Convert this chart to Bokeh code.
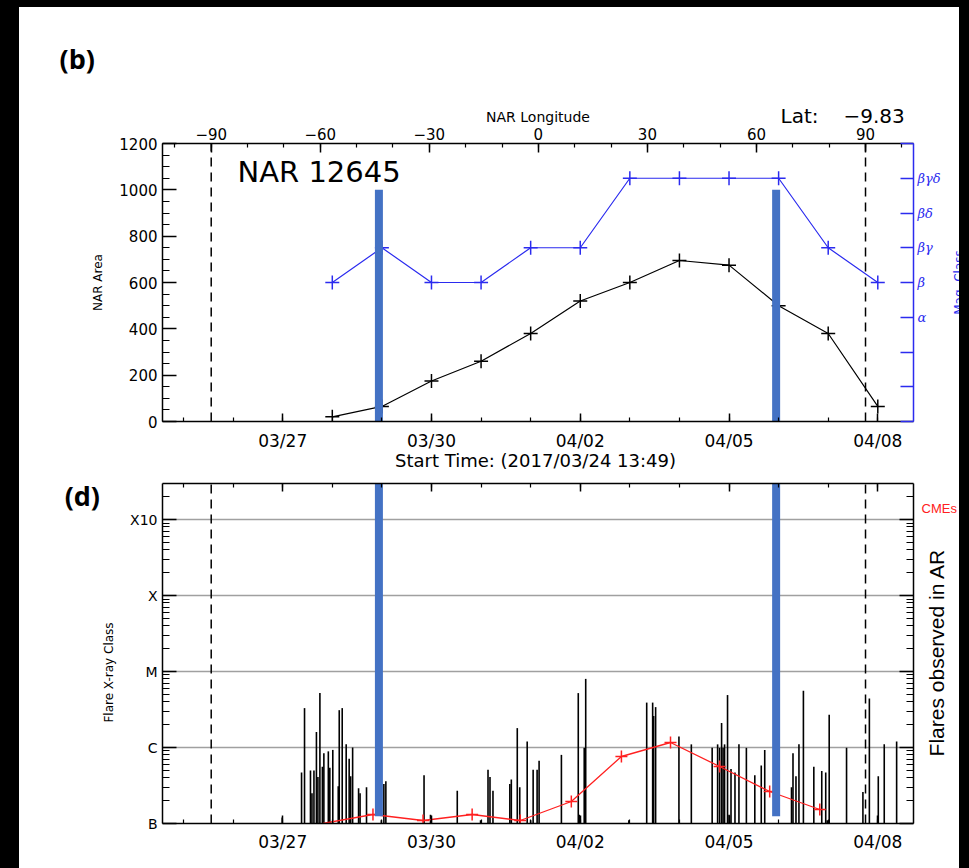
import math
from bokeh.plotting import figure
from bokeh.models import (Range1d, LinearAxis, LogAxis, FixedTicker, Label, LinearScale,
                          LogScale, Grid)
from bokeh.layouts import column
from bokeh.embed import file_html
from bokeh.resources import INLINE

# ---------------- data (x in days since 2017-03-24 00:00 UT) ----------------
area_day = [4, 5, 6, 7, 8, 9, 10, 11, 12, 13, 14, 15]
nar_area = [20, 65, 175, 260, 380, 520, 600, 695, 675, 500, 380, 65]
mag_class = ["β", "βγ", "β", "β", "βγ", "βγ", "βγδ", "βγδ", "βγδ", "βγδ", "βγ", "β"]
mag_levels = ["", "", "", "α", "β", "βγ", "βδ", "βγδ", ""]

flare_day = [2.99, 3.38, 3.44, 3.56, 3.59, 3.63, 3.68, 3.71, 3.75, 3.80,
             3.83, 3.92, 3.95, 4.01, 4.12, 4.14, 4.20, 4.28, 4.34, 4.37,
             4.41, 4.53, 4.56, 4.69, 4.99, 5.04, 5.08, 5.85, 5.98, 6.52,
             6.99, 7.14, 7.18, 7.24, 7.58, 7.61, 7.73, 7.78, 7.93, 8.00,
             8.05, 8.13, 8.17, 8.62, 8.96, 8.98, 9.08, 9.11, 9.98, 10.34,
             10.46, 10.48, 10.52, 10.99, 11.24, 11.66, 11.77, 11.81, 11.85, 11.88,
             11.91, 11.97, 12.00, 12.04, 12.12, 12.20, 12.35, 12.52, 12.65, 12.72,
             13.26, 13.29, 13.35, 13.41, 13.50, 13.71, 13.87, 13.95, 13.98, 14.02,
             14.37, 14.70, 14.83, 15.01, 15.13, 15.38]
flare_flux = [1.2e-7, 4.7e-7, 3.3e-6, 5.0e-7, 2.5e-7, 5.0e-7, 1.6e-6, 4.1e-7, 5.2e-6, 5.6e-7,
              8.4e-7, 8.9e-7, 5.4e-7, 9.3e-7, 3.1e-7, 3.1e-6, 3.3e-6, 1.1e-6, 7.1e-7, 4.2e-7,
              1.0e-6, 2.9e-7, 2.5e-7, 3.0e-7, 1.1e-7, 3.3e-7, 3.6e-7, 4.3e-7, 1.3e-7, 2.7e-7,
              1.1e-7, 5.1e-7, 4.1e-7, 2.7e-7, 3.3e-7, 3.8e-7, 1.8e-6, 3.0e-7, 1.2e-6, 1.1e-7,
              5.1e-7, 5.1e-7, 6.7e-7, 8.0e-7, 5.2e-6, 1.3e-7, 9.9e-7, 8.0e-6, 1.1e-7, 3.9e-6,
              3.9e-6, 2.6e-6, 3.4e-6, 1.4e-6, 1.1e-6, 9.9e-7, 1.1e-6, 9.9e-7, 2.1e-6, 9.9e-7,
              1.1e-6, 4.9e-6, 1.3e-7, 5.2e-7, 4.7e-7, 1.1e-6, 9.9e-7, 4.3e-7, 5.8e-7, 9.3e-7,
              3.0e-7, 8.4e-7, 4.2e-7, 1.1e-6, 5.6e-6, 5.6e-7, 4.9e-7, 4.7e-7, 1.1e-7, 2.7e-6,
              9.9e-7, 2.6e-7, 4.4e-6, 4.2e-7, 1.1e-6, 1.2e-6]

cme_day = [3.81, 4.82, 5.83, 6.82, 7.79, 8.82, 9.83, 10.82, 11.81, 12.82, 13.83]
cme_value = [0, 0.9, 0.3, 0.9, 0.3, 2.2, 6.7, 8.1, 5.7, 3.2, 1.4]

event_day = [4.94, 12.95]
limb_lon = [-90, 90]

date_ticks = [3, 6, 9, 12, 15]
date_labels = ["03/27", "03/30", "04/02", "04/05", "04/08"]
lon_ticks = [-90, -60, -30, 0, 30, 60, 90]
lon_labels = ["−90", "−60", "−30", "0", "30", "60", "90"]
area_ticks = [0, 200, 400, 600, 800, 1000, 1200]
class_ticks = [1e-7, 1e-6, 1e-5, 1e-4, 1e-3]
class_labels = ["B", "C", "M", "X", "X10"]

# ---------------- layout constants ----------------
X0, X1 = 0.576, 15.72
LON0, LON1 = -103.4, 103.2
YTOP_LOG = 2.98e-3
BLUE = "#2b2bef"
BAR = "#4472C4"
RED = "#ff2020"
FONT = "DejaVu Sans"


def tx(px):
    return X0 + (px - 162) * (X1 - X0) / 751


def ty(py):
    return (423 - py) * 1200 / 280


def bx(px):
    return X0 + (px - 162) * (X1 - X0) / 752


def by(py):
    return 1e-7 * 10 ** ((823 - py) / 76)


def style(ax, major, minor, size="16px", color="black", standoff=5):
    ax.major_tick_in = major
    ax.major_tick_out = 0
    ax.minor_tick_in = minor
    ax.minor_tick_out = 0
    ax.axis_line_color = color
    ax.major_tick_line_color = color
    ax.minor_tick_line_color = color
    ax.axis_line_width = 1.5
    ax.major_tick_line_width = 1.5
    ax.minor_tick_line_width = 1.2
    ax.major_label_text_font = FONT
    ax.major_label_text_font_size = size
    ax.major_label_text_color = color
    ax.major_label_standoff = standoff


def hide_labels(ax):
    ax.major_label_text_color = None
    ax.major_label_text_font_size = "1px"
    ax.major_label_standoff = 0


def label(p, side, **kw):
    kw.setdefault("text_color", "black")
    kw.setdefault("text_font", FONT)
    p.add_layout(Label(**kw), side)


day_minor = list(range(0, 17))

# ================= top panel =================
top = figure(width=940, height=467, output_backend="svg", toolbar_location=None,
             x_range=Range1d(X0, X1), y_range=Range1d(0, 1200),
             x_axis_type=None, y_axis_type=None,
             min_border_left=143, min_border_right=46, min_border_top=136, min_border_bottom=51)
top.extra_x_ranges = {"lon": Range1d(LON0, LON1)}
top.extra_y_ranges = {"mag": Range1d(0, 8)}
top.outline_line_color = None

ax = LinearAxis(ticker=FixedTicker(ticks=area_ticks, minor_ticks=list(range(0, 1201, 50))))
style(ax, 14, 7, "15px", standoff=5)
top.add_layout(ax, "left")

ax = LinearAxis(ticker=FixedTicker(ticks=date_ticks, minor_ticks=day_minor),
                major_label_overrides=dict(zip(date_ticks, date_labels)))
style(ax, 8, 4, "17px", standoff=9)
top.add_layout(ax, "below")

ax = LinearAxis(x_range_name="lon", ticker=FixedTicker(ticks=lon_ticks, minor_ticks=list(range(-100, 101, 10))),
                major_label_overrides=dict(zip(lon_ticks, lon_labels)),
                axis_label="NAR Longitude", axis_label_standoff=0,
                axis_label_text_font=FONT, axis_label_text_font_size="14px",
                axis_label_text_font_style="normal", axis_label_text_color="black")
style(ax, 9, 4, "15px", standoff=4)
top.add_layout(ax, "above")

mag_ticks = list(range(len(mag_levels)))
ax = LinearAxis(y_range_name="mag", ticker=FixedTicker(ticks=mag_ticks),
                major_label_overrides=dict(zip(mag_ticks, mag_levels)))
style(ax, 13, 0, "13px", color=BLUE, standoff=4)
ax.major_label_text_font = "DejaVu Serif"
ax.major_label_text_font_style = "italic"
top.add_layout(ax, "right")

top.segment(x0=limb_lon, y0=0, x1=limb_lon, y1=1200, x_range_name="lon",
            line_color="black", line_width=1.5, line_dash="9 6")

mag_index = [mag_levels.index(c) for c in mag_class]
top.line(area_day, mag_index, y_range_name="mag", line_color=BLUE, line_width=1.2)
top.scatter(area_day, mag_index, y_range_name="mag", marker="cross", size=14,
            line_color=BLUE, line_width=1.5)
top.line(area_day, nar_area, line_color="black", line_width=1.2)
top.scatter(area_day, nar_area, marker="cross", size=14, line_color="black", line_width=1.5)

top.segment(x0=event_day, y0=0, x1=event_day, y1=1000, line_color=BAR, line_width=8)

top.add_layout(Label(x=tx(237), y=ty(172), text="NAR 12645", text_font=FONT, text_font_size="29px",
                     text_color="black", text_align="left", text_baseline="alphabetic"))
label(top, "above", x=tx(59), y=ty(57), text="(b)", text_font="Open Sans", text_font_size="27px",
      text_font_style="bold", text_align="left", text_baseline="middle")
label(top, "above", x=tx(780), y=ty(115), text="Lat:", text_font_size="20px",
      text_align="left", text_baseline="alphabetic")
label(top, "above", x=tx(843), y=ty(115), text="−9.83", text_font_size="20px",
      text_align="left", text_baseline="alphabetic")
label(top, "below", x=tx(535), y=ty(462), text="Start Time: (2017/03/24 13:49)",
      text_font_size="18px", text_align="center", text_baseline="middle")
label(top, "left", x=tx(97), y=ty(283), text="NAR Area", text_font_size="12px",
      text_align="center", text_baseline="middle", angle=math.pi / 2)
label(top, "left", x=tx(958), y=ty(283), text="Mag. Class", text_font_size="12px",
      text_color=BLUE, text_align="center", text_baseline="middle", angle=math.pi / 2)

# ================= bottom panel =================
bot = figure(width=940, height=394, output_backend="svg", toolbar_location=None,
             x_range=Range1d(X0, X1), y_range=Range1d(1e-7, YTOP_LOG),
             x_axis_type=None, y_axis_type=None,
             min_border_left=143, min_border_right=45, min_border_top=9, min_border_bottom=45)
bot.y_scale = LogScale()
bot.extra_x_ranges = {"lon": Range1d(LON0, LON1)}
bot.extra_y_ranges = {"cme": Range1d(0, 34)}
bot.extra_y_scales = {"cme": LinearScale()}
bot.outline_line_color = None

log_minor = [k * 10.0 ** d for d in range(-7, -2) for k in range(2, 10) if k * 10.0 ** d <= YTOP_LOG]

ax = LogAxis(ticker=FixedTicker(ticks=class_ticks, minor_ticks=log_minor),
             major_label_overrides=dict(zip(class_ticks, class_labels)))
style(ax, 14, 7, "14px", standoff=5)
bot.add_layout(ax, "left")

ax = LogAxis(ticker=FixedTicker(ticks=class_ticks, minor_ticks=log_minor))
style(ax, 14, 7)
hide_labels(ax)
bot.add_layout(ax, "right")

ax = LinearAxis(ticker=FixedTicker(ticks=date_ticks, minor_ticks=day_minor),
                major_label_overrides=dict(zip(date_ticks, date_labels)))
style(ax, 8, 4, "17px", standoff=8)
bot.add_layout(ax, "below")

ax = LinearAxis(ticker=FixedTicker(ticks=date_ticks, minor_ticks=day_minor))
style(ax, 8, 4)
hide_labels(ax)
bot.add_layout(ax, "above")

bot.add_layout(Grid(dimension=1, ticker=FixedTicker(ticks=class_ticks[1:]),
                    grid_line_color="#a0a0a0", grid_line_width=1.5))

bot.segment(x0=limb_lon, y0=1e-7, x1=limb_lon, y1=YTOP_LOG, x_range_name="lon",
            line_color="black", line_width=1.5, line_dash="9 6")

bot.segment(x0=flare_day, y0=1e-7, x1=flare_day, y1=flare_flux, line_color="black", line_width=1.6)

bot.line(cme_day, cme_value, y_range_name="cme", line_color=RED, line_width=1.3)
bot.scatter(cme_day[1:], cme_value[1:], y_range_name="cme", marker="cross", size=12,
            line_color=RED, line_width=1.5)

bot.segment(x0=event_day, y0=1.25e-7, x1=event_day, y1=YTOP_LOG, line_color=BAR, line_width=8)

label(bot, "left", x=bx(64), y=by(495), text="(d)", text_font="Open Sans", text_font_size="27px",
      text_font_style="bold", text_align="left", text_baseline="middle")
label(bot, "left", x=bx(108), y=by(672), text="Flare X-ray Class", text_font_size="12px",
      text_align="center", text_baseline="middle", angle=math.pi / 2)
label(bot, "left", x=bx(937), y=by(652), text="Flares observed in AR", text_font="Liberation Sans",
      text_font_size="21px", text_align="center", text_baseline="middle", angle=math.pi / 2)
label(bot, "left", x=bx(922), y=by(508), text="CMEs", text_font="Liberation Sans",
      text_font_size="13px", text_color=RED, text_align="left", text_baseline="middle")

shadow = ("-19px -7px 0 0 #000, 10px -7px 0 0 #000, "
          "-19px 0 0 0 #000, 10px 0 0 0 #000")
layout = column(top, bot, width=940, height=861, sizing_mode="fixed",
                margin=(7, 0, 0, 19), styles={"box-shadow": shadow})

open("out.html", "w").write(file_html(layout, INLINE))
